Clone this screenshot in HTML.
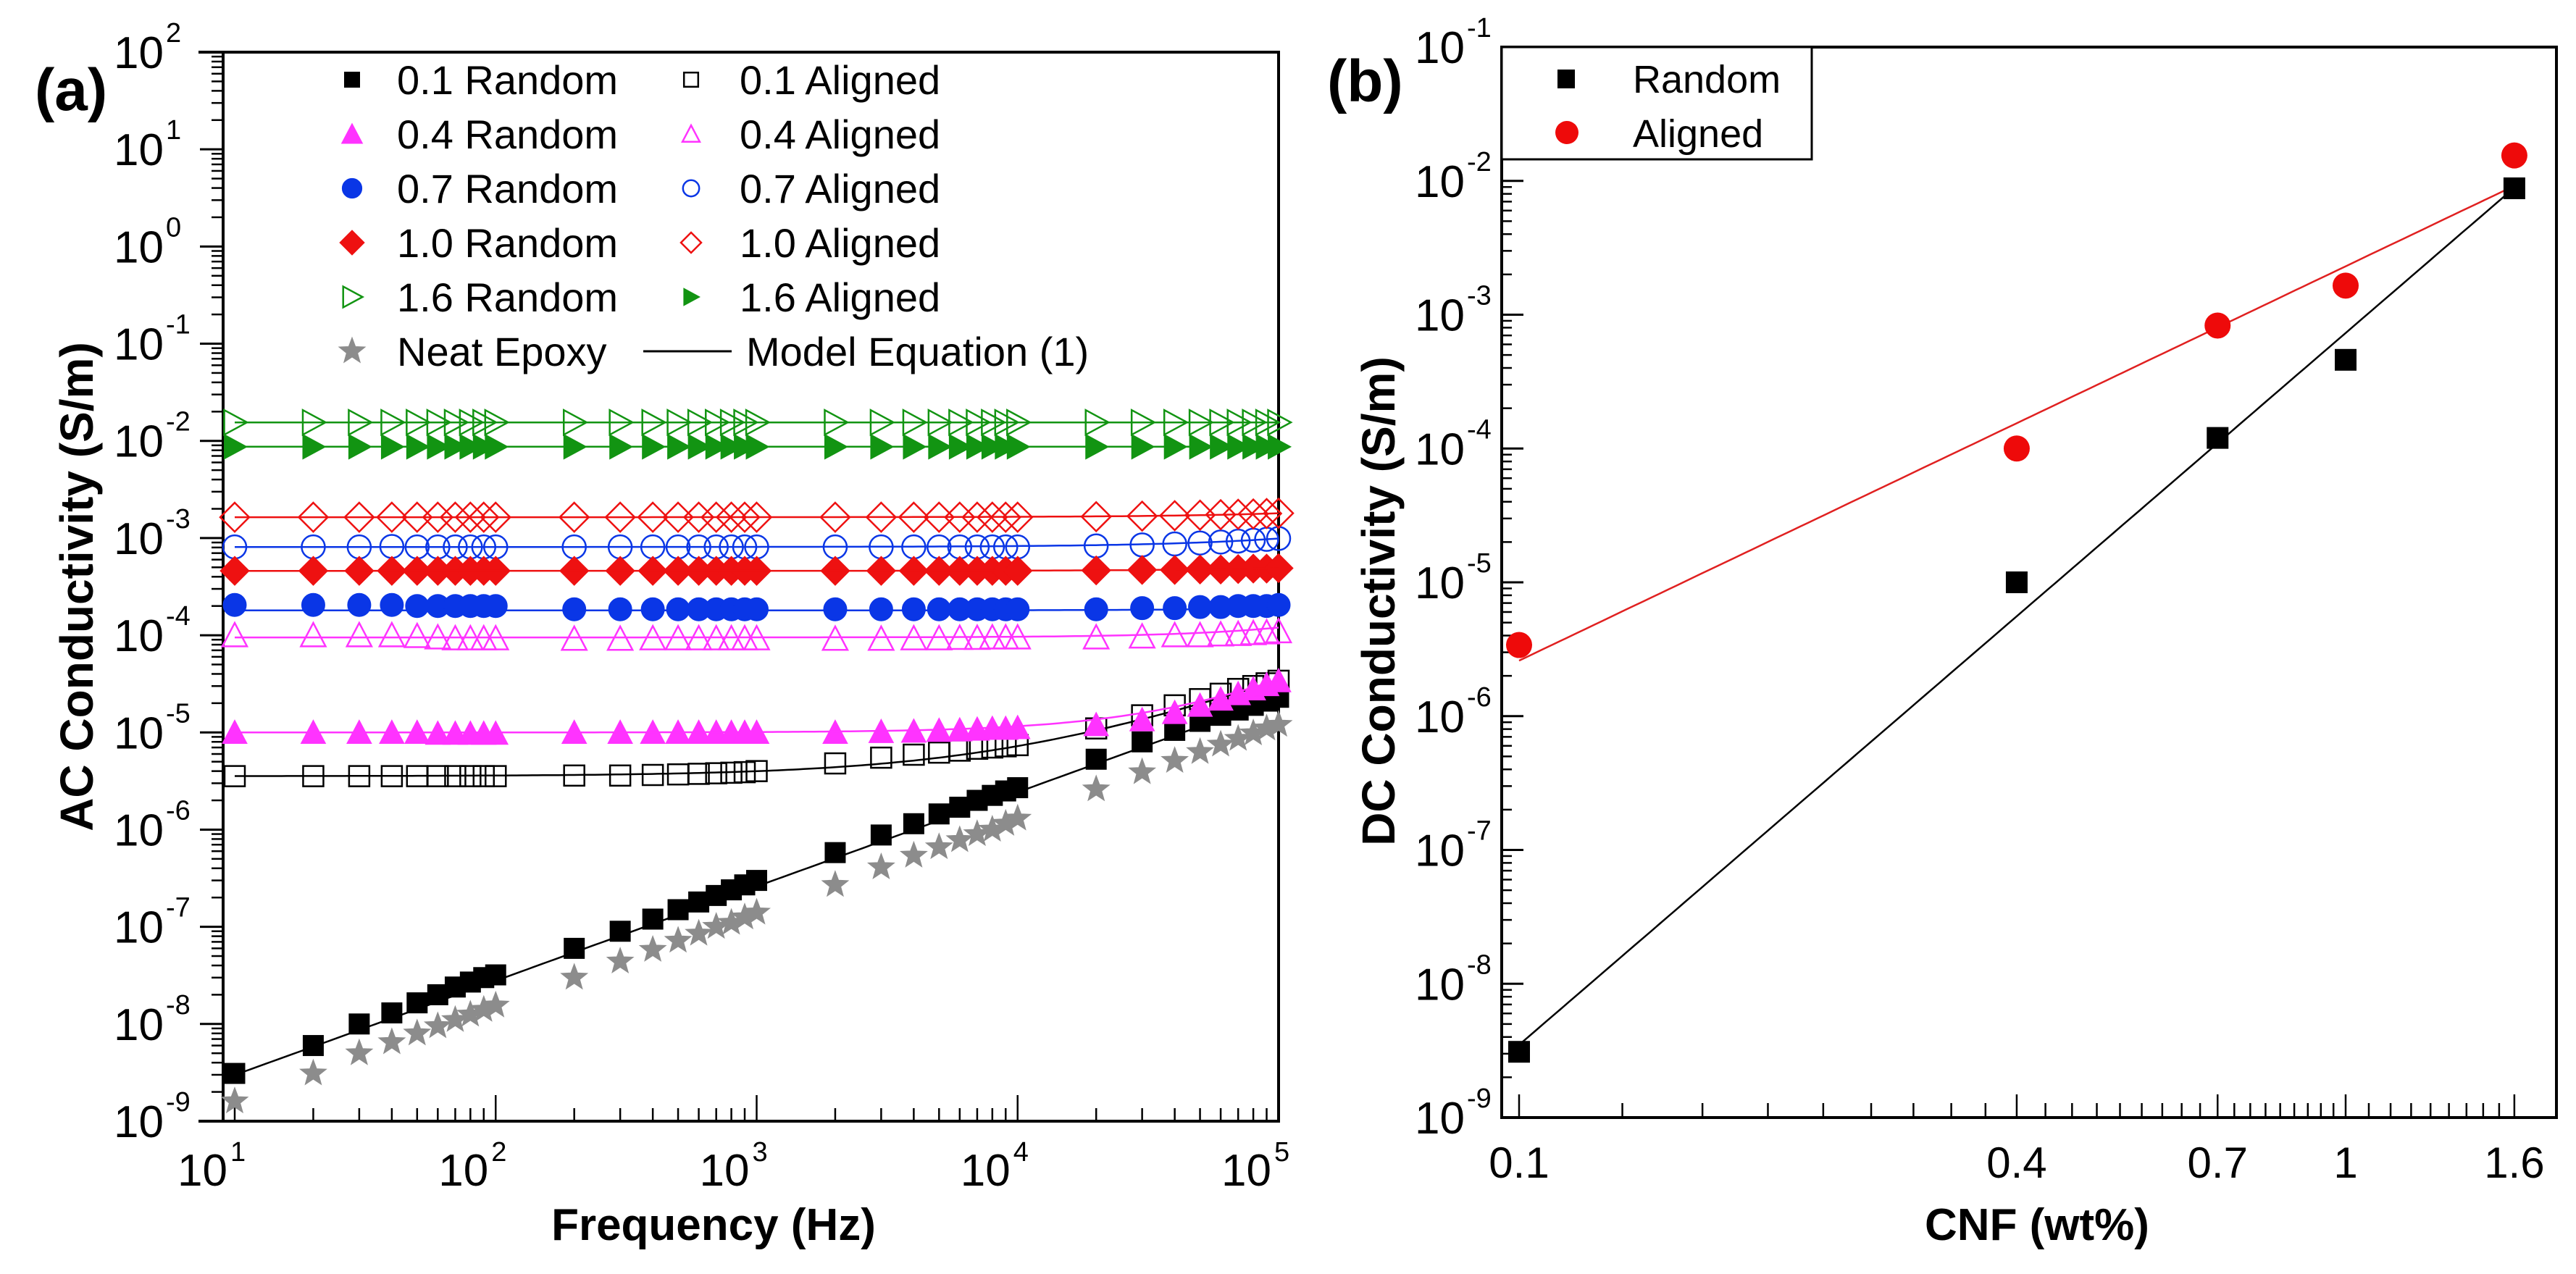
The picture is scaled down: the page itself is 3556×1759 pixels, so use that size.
<!DOCTYPE html>
<html><head><meta charset="utf-8"><style>
html,body{margin:0;padding:0;background:#fff;}
svg{display:block;font-family:"Liberation Sans",Arial,sans-serif;}
</style></head><body>
<svg id="fig" width="3556" height="1759" viewBox="0 0 3556 1759" xmlns="http://www.w3.org/2000/svg">
<rect x="0" y="0" width="3556" height="1759" fill="#fff"/>
<g id="pa"></g>
<g id="pb"></g>
<text x="48" y="152" font-size="82" font-weight="bold">(a)</text>
<text x="1832" y="140" font-size="82" font-weight="bold">(b)</text>
<text transform="translate(128,810) rotate(-90)" text-anchor="middle" font-size="64" font-weight="bold">AC Conductivity (S/m)</text>
<text x="985" y="1712" text-anchor="middle" font-size="62" font-weight="bold">Frequency (Hz)</text>
<text transform="translate(1925,830) rotate(-90)" text-anchor="middle" font-size="64" font-weight="bold">DC Conductivity (S/m)</text>
<text x="2812" y="1712" text-anchor="middle" font-size="62" font-weight="bold">CNF (wt%)</text>
</svg>
<script>
// ---------- Panel (a) data ----------
const freqs = [10,20,30,40,50,60,70,80,90,100,200,300,400,500,600,700,800,900,1000,2000,3000,4000,5000,6000,7000,8000,9000,10000,20000,30000,40000,50000,60000,70000,80000,90000,100000];
const r01 = [3.1e-9,6.0e-9,1.0e-8,1.3e-8,1.65e-8,2.0e-8,2.4e-8,2.7e-8,3.0e-8,3.2e-8,6.0e-8,9.0e-8,1.2e-7,1.5e-7,1.8e-7,2.1e-7,2.4e-7,2.7e-7,3.0e-7,5.8e-7,8.8e-7,1.15e-6,1.45e-6,1.7e-6,2.0e-6,2.25e-6,2.5e-6,2.7e-6,5.3e-6,8.0e-6,1.05e-5,1.3e-5,1.5e-5,1.7e-5,1.9e-5,2.1e-5,2.3e-5];
const neat = [1.6e-9,3.1e-9,5.0e-9,6.5e-9,8.0e-9,9.5e-9,1.1e-8,1.25e-8,1.4e-8,1.55e-8,3.0e-8,4.4e-8,5.8e-8,7.2e-8,8.5e-8,1.0e-7,1.1e-7,1.25e-7,1.4e-7,2.7e-7,4.1e-7,5.4e-7,6.6e-7,7.8e-7,9.0e-7,1.0e-6,1.15e-6,1.3e-6,2.6e-6,3.9e-6,5.1e-6,6.3e-6,7.5e-6,8.6e-6,9.8e-6,1.1e-5,1.2e-5];
const a01 = [3.55e-6,3.55e-6,3.55e-6,3.55e-6,3.55e-6,3.55e-6,3.55e-6,3.55e-6,3.55e-6,3.55e-6,3.6e-6,3.6e-6,3.65e-6,3.7e-6,3.75e-6,3.8e-6,3.85e-6,3.9e-6,4.0e-6,4.8e-6,5.5e-6,5.9e-6,6.2e-6,6.5e-6,6.8e-6,7.0e-6,7.2e-6,7.4e-6,1.1e-5,1.5e-5,1.9e-5,2.2e-5,2.5e-5,2.8e-5,3.0e-5,3.2e-5,3.4e-5];
const r04 = [1.0e-5,1.0e-5,1.0e-5,1.0e-5,1.0e-5,0.98e-5,0.98e-5,0.98e-5,0.98e-5,0.98e-5,1.0e-5,1.0e-5,1.0e-5,1.0e-5,1.0e-5,1.0e-5,1.0e-5,1.0e-5,1.0e-5,1.0e-5,1.02e-5,1.03e-5,1.05e-5,1.06e-5,1.08e-5,1.1e-5,1.1e-5,1.12e-5,1.2e-5,1.35e-5,1.6e-5,1.9e-5,2.2e-5,2.5e-5,2.8e-5,3.1e-5,3.4e-5];
const a04 = [1.0e-4,1.0e-4,1.0e-4,1.0e-4,0.98e-4,0.95e-4,0.93e-4,0.93e-4,0.93e-4,0.93e-4,0.92e-4,0.92e-4,0.93e-4,0.93e-4,0.93e-4,0.93e-4,0.93e-4,0.93e-4,0.93e-4,0.92e-4,0.92e-4,0.93e-4,0.93e-4,0.94e-4,0.94e-4,0.95e-4,0.95e-4,0.95e-4,0.95e-4,0.97e-4,1.0e-4,1.0e-4,1.02e-4,1.03e-4,1.05e-4,1.07e-4,1.1e-4];
const r07 = [2.05e-4,2.05e-4,2.05e-4,2.05e-4,2.0e-4,2.0e-4,2.0e-4,2.0e-4,2.0e-4,2.0e-4,1.85e-4,1.85e-4,1.85e-4,1.85e-4,1.85e-4,1.85e-4,1.85e-4,1.85e-4,1.85e-4,1.85e-4,1.85e-4,1.85e-4,1.85e-4,1.85e-4,1.85e-4,1.85e-4,1.85e-4,1.85e-4,1.85e-4,1.9e-4,1.9e-4,1.95e-4,1.95e-4,2.0e-4,2.0e-4,2.0e-4,2.05e-4];
const a07 = [8.1e-4,8.1e-4,8.1e-4,8.2e-4,8.1e-4,8.1e-4,8.1e-4,8.1e-4,8.1e-4,8.1e-4,8.1e-4,8.1e-4,8.1e-4,8.1e-4,8.1e-4,8.1e-4,8.1e-4,8.1e-4,8.1e-4,8.1e-4,8.1e-4,8.1e-4,8.1e-4,8.1e-4,8.1e-4,8.1e-4,8.1e-4,8.1e-4,8.3e-4,8.5e-4,8.7e-4,8.9e-4,9.1e-4,9.3e-4,9.5e-4,9.7e-4,9.9e-4];
const r10 = [4.6e-4,4.6e-4,4.6e-4,4.6e-4,4.6e-4,4.6e-4,4.6e-4,4.6e-4,4.6e-4,4.6e-4,4.6e-4,4.6e-4,4.6e-4,4.6e-4,4.6e-4,4.6e-4,4.6e-4,4.6e-4,4.6e-4,4.6e-4,4.6e-4,4.6e-4,4.6e-4,4.6e-4,4.6e-4,4.6e-4,4.6e-4,4.6e-4,4.65e-4,4.7e-4,4.7e-4,4.75e-4,4.75e-4,4.8e-4,4.85e-4,4.85e-4,4.9e-4];
const a10 = [1.64e-3,1.64e-3,1.64e-3,1.64e-3,1.64e-3,1.64e-3,1.64e-3,1.64e-3,1.64e-3,1.64e-3,1.64e-3,1.64e-3,1.64e-3,1.64e-3,1.64e-3,1.64e-3,1.64e-3,1.64e-3,1.64e-3,1.64e-3,1.64e-3,1.64e-3,1.64e-3,1.64e-3,1.64e-3,1.64e-3,1.64e-3,1.64e-3,1.66e-3,1.68e-3,1.7e-3,1.72e-3,1.74e-3,1.76e-3,1.77e-3,1.79e-3,1.8e-3];
const r16 = [1.55e-2,1.55e-2,1.55e-2,1.55e-2,1.55e-2,1.55e-2,1.55e-2,1.55e-2,1.55e-2,1.55e-2,1.55e-2,1.55e-2,1.55e-2,1.55e-2,1.55e-2,1.55e-2,1.55e-2,1.55e-2,1.55e-2,1.55e-2,1.55e-2,1.55e-2,1.55e-2,1.55e-2,1.55e-2,1.55e-2,1.55e-2,1.55e-2,1.55e-2,1.55e-2,1.55e-2,1.55e-2,1.55e-2,1.55e-2,1.55e-2,1.55e-2,1.55e-2];
const a16 = [8.7e-3,8.7e-3,8.7e-3,8.7e-3,8.7e-3,8.7e-3,8.7e-3,8.7e-3,8.7e-3,8.7e-3,8.7e-3,8.7e-3,8.7e-3,8.7e-3,8.7e-3,8.7e-3,8.7e-3,8.7e-3,8.7e-3,8.7e-3,8.7e-3,8.7e-3,8.7e-3,8.7e-3,8.7e-3,8.7e-3,8.7e-3,8.7e-3,8.7e-3,8.7e-3,8.7e-3,8.7e-3,8.7e-3,8.7e-3,8.7e-3,8.7e-3,8.7e-3];
// model equation (1) parameters: [sigma_dc, A, n]
const modelR01 = [0, 3.2e-10, 0.97];
const modelA01 = [3.55e-6, 7.7e-10, 0.92];
const modelR04 = [1.0e-5, 2.5e-11, 1.2];
const modelA04 = [0.95e-4, 2.5e-11, 1.2];
const modelR07 = [1.8e-4, 1.0e-10, 1.0];
const modelA07 = [8.1e-4, 1.8e-9, 1.0];
const modelR10 = [4.6e-4, 3.0e-10, 1.0];
const modelA10 = [1.64e-3, 1.6e-9, 1.0];
const modelR16 = [1.55e-2, 0, 1.0];
const modelA16 = [8.7e-3, 0, 1.0];
const yTicksA = [2,1,0,-1,-2,-3,-4,-5,-6,-7,-8,-9];
const xTicksA = [1,2,3,4,5];

// ---------- Panel (b) data ----------
const cnf = [0.1,0.4,0.7,1.0,1.6];
const dcRandom = [3.1e-9,1.0e-5,1.2e-4,4.6e-4,8.8e-3];
const dcAligned = [3.4e-6,1.0e-4,8.3e-4,1.65e-3,1.55e-2];
const fitRandom = [7.3e-4, 5.32];
const fitAligned = [2.3e-3, 2.947];
const xTickLabelsB = ["0.1","0.4","0.7","1","1.6"];
const yTicksB = [-1,-2,-3,-4,-5,-6,-7,-8,-9];

const NS = "http://www.w3.org/2000/svg";
function mk(tag, attrs, parent){ const e=document.createElementNS(NS,tag); for(const k in attrs) e.setAttribute(k,attrs[k]); if(parent) parent.appendChild(e); return e; }

// axes (a)
const AX0=308, AX1=1765, AY0=72, AY1=1548;
function ax(f){ return 324 + (Math.log10(f)-1)*360.25; }
function ay(v){ return 72 + (2-Math.log10(v))*134.18; }
// axes (b)
const BX0=2073, BX1=3529, BY0=65, BY1=1543;
function bx(c){ return 2097 + Math.log10(c/0.1)*1141; }
function by(v){ return 65 + (-1-Math.log10(v))*184.75; }

const COL = {black:"#000", mag:"#ff33ff", blue:"#0a36e6", red:"#ee1111", green:"#129412", gray:"#8c8c8c"};

function marker(g, type, x, y, color, filled, s){
  s = s||1; let e;
  const fill = filled?color:"none";
  const st = {stroke:color, "stroke-width":filled?1:2.5, fill:fill};
  if(type==="square"){ const h=14*s; e=mk("rect",Object.assign({x:x-h,y:y-h,width:2*h,height:2*h},st),g); }
  else if(type==="circle"){ e=mk("circle",Object.assign({cx:x,cy:y,r:16*s},st),g); }
  else if(type==="tri"){ const h=17*s; e=mk("polygon",Object.assign({points:`${x},${y-h} ${x+h},${y+h*0.9} ${x-h},${y+h*0.9}`},st),g); }
  else if(type==="diamond"){ const h=20*s; e=mk("polygon",Object.assign({points:`${x},${y-h} ${x+h},${y} ${x},${y+h} ${x-h},${y}`},st),g); }
  else if(type==="right"){ const h=17*s; e=mk("polygon",Object.assign({points:`${x-h*0.85},${y-h} ${x+h},${y} ${x-h*0.85},${y+h}`},st),g); }
  else if(type==="star"){ let p=[]; for(let i=0;i<10;i++){ const r=(i%2?8:19)*s, a=-Math.PI/2+i*Math.PI/5; p.push((x+r*Math.cos(a)).toFixed(1)+","+(y+r*Math.sin(a)).toFixed(1)); } e=mk("polygon",Object.assign({points:p.join(" ")},st),g); }
  return e;
}

// ===== Panel (a) =====
const pa = document.getElementById("pa");
// ticks
const tg = mk("g",{},pa);


yTicksA.forEach(d=>{
  const y=ay(Math.pow(10,d));
  mk("line",{x1:AX0-32,y1:y,x2:AX0,y2:y,stroke:"#000","stroke-width":3},tg);
  if(d>-9) for(let k=2;k<10;k++){ const yy=ay(k*Math.pow(10,d-1)); mk("line",{x1:AX0-16,y1:yy,x2:AX0,y2:yy,stroke:"#000","stroke-width":2.5},tg); }
  const t=mk("text",{x:226,y:y+22,"text-anchor":"end","font-size":62},pa); t.textContent="10";
  
  
  const s=mk("text",{x:229,y:y-14,"font-size":38},pa); s.textContent=String(d);
});
xTicksA.forEach(d=>{
  const x=ax(Math.pow(10,d));
  mk("line",{x1:x,y1:AY1,x2:x,y2:AY1-36,stroke:"#000","stroke-width":2.5},tg);
  if(d<5) for(let k=2;k<10;k++){ const xx=ax(k*Math.pow(10,d)); mk("line",{x1:xx,y1:AY1,x2:xx,y2:AY1-18,stroke:"#000","stroke-width":2.5},tg); }
  const t=mk("text",{x:x-10,y:1637,"text-anchor":"end","font-size":62},pa); t.textContent="10";
  
  
  const s=mk("text",{x:x-6,y:1603,"font-size":38},pa); s.textContent=String(d);
});
// frame
const fa=mk("rect",{x:AX0,y:AY0,width:AX1-AX0,height:AY1-AY0,fill:"none",stroke:"#000","stroke-width":4},pa);


mk("line",{x1:AX0-34,y1:AY1,x2:AX0,y2:AY1,stroke:"#000","stroke-width":4},pa);
mk("line",{x1:AX0-34,y1:AY0,x2:AX0,y2:AY0,stroke:"#000","stroke-width":4},pa);

const seriesA = [
  {name:"0.1-random", vals:r01, model:modelR01, type:"square", col:COL.black, fill:true},
  {name:"0.1-aligned", vals:a01, model:modelA01, type:"square", col:COL.black, fill:false},
  {name:"0.4-random", vals:r04, model:modelR04, type:"tri", col:COL.mag, fill:true},
  {name:"0.4-aligned", vals:a04, model:modelA04, type:"tri", col:COL.mag, fill:false},
  {name:"0.7-random", vals:r07, model:modelR07, type:"circle", col:COL.blue, fill:true},
  {name:"0.7-aligned", vals:a07, model:modelA07, type:"circle", col:COL.blue, fill:false},
  {name:"1.0-random", vals:r10, model:modelR10, type:"diamond", col:COL.red, fill:true},
  {name:"1.0-aligned", vals:a10, model:modelA10, type:"diamond", col:COL.red, fill:false},
  {name:"1.6-random", vals:r16, model:modelR16, type:"right", col:COL.green, fill:false},
  {name:"1.6-aligned", vals:a16, model:modelA16, type:"right", col:COL.green, fill:true},
  {name:"neat-epoxy", vals:neat, model:null, type:"star", col:COL.gray, fill:true}
];
const lineCol = {"0.1-random":"#000","0.1-aligned":"#000"};
seriesA.forEach(s=>{
  const g=mk("g",{},pa);
  
  
  s.vals.forEach((v,i)=>{
    const m=marker(g,s.type,ax(freqs[i]),ay(v),s.col,s.fill);
    
    
  });
  if(s.model){
    let p=[];
    for(let lf=1; lf<=5.0001; lf+=0.02){ const f=Math.pow(10,lf); const v=s.model[0]+s.model[1]*Math.pow(f,s.model[2]); p.push(ax(f).toFixed(1)+","+ay(v).toFixed(1)); }
    const c = s.name.startsWith("0.1")?"#000":s.col;
    const l=mk("polyline",{points:p.join(" "),fill:"none",stroke:c,"stroke-width":2.5},g);
    
    
  }
});

// legend (a)
const lg=mk("g",{},pa);


const legA = [
  ["square",COL.black,true,"0.1 Random","square",COL.black,false,"0.1 Aligned"],
  ["tri",COL.mag,true,"0.4 Random","tri",COL.mag,false,"0.4 Aligned"],
  ["circle",COL.blue,true,"0.7 Random","circle",COL.blue,false,"0.7 Aligned"],
  ["diamond",COL.red,true,"1.0 Random","diamond",COL.red,false,"1.0 Aligned"],
  ["right",COL.green,false,"1.6 Random","right",COL.green,true,"1.6 Aligned"],
  ["star",COL.gray,true,"Neat Epoxy","line","#000",false,"Model Equation (1)"]
];
legA.forEach((r,i)=>{
  const y=110+75*i;
  const e1=mk("g",{},lg);
  
  
  marker(e1,r[0],486,y,r[1],r[2],i===5?1:(r[0]==="square"?0.75:0.85));
  const t1=mk("text",{x:548,y:y+20,"font-size":56},e1); t1.textContent=r[3];
  const e2=mk("g",{},lg);
  
  
  if(r[4]==="line") mk("line",{x1:888,y1:y,x2:1010,y2:y,stroke:"#000","stroke-width":3},e2);
  else marker(e2,r[4],954,y,r[5],r[6],0.7);
  const t2=mk("text",{x:r[4]==="line"?1030:1021,y:y+20,"font-size":56},e2); t2.textContent=r[7];
});

// ===== Panel (b) =====
const pb=document.getElementById("pb");
const tb=mk("g",{},pb);


yTicksB.forEach(d=>{
  const y=by(Math.pow(10,d));
  mk("line",{x1:BX0,y1:y,x2:BX0+30,y2:y,stroke:"#000","stroke-width":3},tb);
  if(d>-9) for(let k=2;k<10;k++){ const yy=by(k*Math.pow(10,d-1)); mk("line",{x1:BX0,y1:yy,x2:BX0+14,y2:yy,stroke:"#000","stroke-width":2.5},tb); }
  const t=mk("text",{x:2022,y:y+22,"text-anchor":"end","font-size":62},pb); t.textContent="10";
  
  
  const s=mk("text",{x:2025,y:y-14,"font-size":38},pb); s.textContent=String(d);
});
// minor x ticks
for(let i=1;i<27;i++){ const c=0.1+i/30; if([0.4,0.7].some(v=>Math.abs(v-c)<1e-6)) continue; const x=bx(c); mk("line",{x1:x,y1:BY1,x2:x,y2:BY1-20,stroke:"#000","stroke-width":2.5},tb); }
for(let i=1;i<9;i++){ const c=1+i*0.0667; const x=bx(c); mk("line",{x1:x,y1:BY1,x2:x,y2:BY1-20,stroke:"#000","stroke-width":2.5},tb); }
cnf.forEach((c,i)=>{
  const x=bx(c);
  mk("line",{x1:x,y1:BY1,x2:x,y2:BY1-32,stroke:"#000","stroke-width":2.5},tb);
  const t=mk("text",{x:x,y:1626,"text-anchor":"middle","font-size":60},pb); t.textContent=xTickLabelsB[i];
  
  
});
const fb=mk("rect",{x:BX0,y:BY0,width:BX1-BX0,height:BY1-BY0,fill:"none",stroke:"#000","stroke-width":4},pb);



function fitLine(params,col,name){
  let p=[];
  for(let lc=-1; lc<=Math.log10(1.6)+1e-6; lc+=0.01){ const c=Math.pow(10,lc); p.push(bx(c).toFixed(1)+","+by(params[0]*Math.pow(c,params[1])).toFixed(1)); }
  const l=mk("polyline",{points:p.join(" "),fill:"none",stroke:col,"stroke-width":2.5},pb);
  
  
}
fitLine(fitRandom,"#000","fit-line-random");
fitLine(fitAligned,"#e02020","fit-line-aligned");
const gr=mk("g",{},pb);


dcRandom.forEach((v,i)=>{ const e=mk("rect",{x:bx(cnf[i])-15,y:by(v)-15,width:30,height:30,fill:"#000"},gr);
  
   });
const ga=mk("g",{},pb);


dcAligned.forEach((v,i)=>{ const e=mk("circle",{cx:bx(cnf[i]),cy:by(v),r:18,fill:"#ee0a0a"},ga);
  
   });

// legend (b)
const lb=mk("g",{},pb);


mk("rect",{x:BX0,y:BY0,width:428,height:155,fill:"#fff",stroke:"#000","stroke-width":3},lb);
mk("rect",{x:2150,y:96,width:24,height:26,fill:"#000"},lb);
let t=mk("text",{x:2254,y:128,"font-size":54},lb); t.textContent="Random";
mk("circle",{cx:2163,cy:183,r:16,fill:"#ee0a0a"},lb);
t=mk("text",{x:2254,y:203,"font-size":54},lb); t.textContent="Aligned";
</script>
</body></html>
